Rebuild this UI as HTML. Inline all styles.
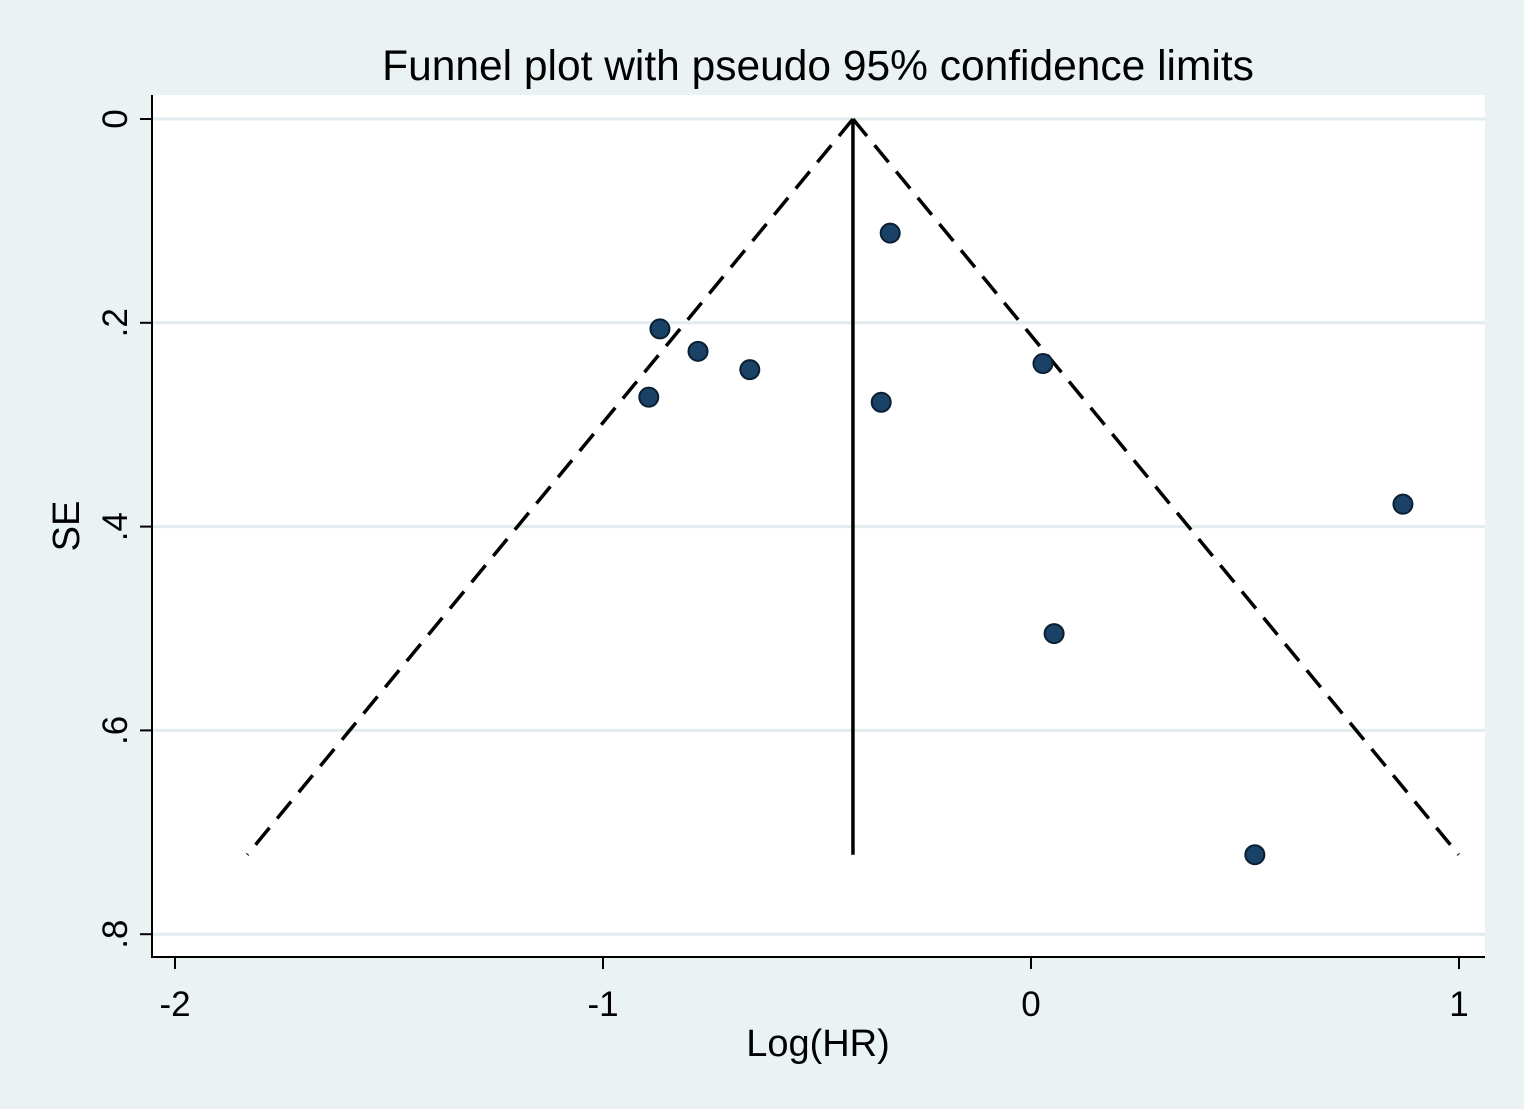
<!DOCTYPE html>
<html><head><meta charset="utf-8"><style>
html,body{margin:0;padding:0;background:#eaf2f3;}
svg{display:block;font-family:"Liberation Sans",Arial,sans-serif;}
</style></head><body>
<svg id="chart" width="1524" height="1109" viewBox="0 0 1524 1109">
<rect x="0" y="0" width="1524" height="1109" fill="#eaf2f3"/>
<text x="818" y="80" font-size="42.5" text-anchor="middle" fill="#000">Funnel plot with pseudo 95% confidence limits</text>
<rect x="152" y="95" width="1333" height="862" fill="#fff"/>
<g id="grid"></g>
<g id="funnel"></g>
<g id="points"></g>
<g id="axes"></g>
<text x="818" y="1056" font-size="38" text-anchor="middle">Log(HR)</text>
<text transform="translate(79,526) rotate(-90)" font-size="38" text-anchor="middle">SE</text>
</svg>
<script>
const xTicks=[-2,-1,0,1];
const xTickLabels=["-2","-1","0","1"];
const yTicks=[0,0.2,0.4,0.6,0.8];
const yTickLabels=["0",".2",".4",".6",".8"];
const logHR=[-0.329,-0.867,-0.778,-0.657,-0.893,-0.350,0.028,0.869,0.054,0.523];
const se=[0.112,0.206,0.228,0.246,0.273,0.278,0.240,0.378,0.505,0.722];
const pooled=[-0.416];
const maxSE=[0.722];

const NS="http://www.w3.org/2000/svg";
const xs=v=>1031+428*v;
const ys=v=>119+1019*v;
function mk(tag,attrs,parent){const e=document.createElementNS(NS,tag);for(const k in attrs)e.setAttribute(k,attrs[k]);document.getElementById(parent).appendChild(e);return e;}

yTicks.forEach((t,i)=>{
  const g=mk('line',{x1:152,x2:1485,y1:ys(t),y2:ys(t),stroke:'#e2ebee','stroke-width':3},'grid');
  
  
  const tk=mk('line',{x1:140,x2:152,y1:ys(t),y2:ys(t),stroke:'#000','stroke-width':2},'axes');
  
  
  const tx=mk('text',{transform:`translate(127,${ys(t)}) rotate(-90)`,'font-size':35,'text-anchor':'middle'},'axes');
  tx.textContent=yTickLabels[i];
  
  
});
xTicks.forEach((t,i)=>{
  const tk=mk('line',{x1:xs(t),x2:xs(t),y1:957,y2:969,stroke:'#000','stroke-width':2},'axes');
  
  
  const tx=mk('text',{x:xs(t),y:1016,'font-size':35,'text-anchor':'middle'},'axes');
  tx.textContent=xTickLabels[i];
  
  
});
const ya=mk('line',{x1:152,x2:152,y1:95,y2:958,stroke:'#000','stroke-width':2},'axes');


const xa=mk('line',{x1:151,x2:1485,y1:957,y2:957,stroke:'#000','stroke-width':2},'axes');



const p=pooled[0],m=maxSE[0];
const fl=mk('line',{x1:xs(p),y1:ys(0),x2:xs(p-1.96*m),y2:ys(m),stroke:'#000','stroke-width':3.5,'stroke-dasharray':'22,12'},'funnel');


const fr=mk('line',{x1:xs(p),y1:ys(0),x2:xs(p+1.96*m),y2:ys(m),stroke:'#000','stroke-width':3.5,'stroke-dasharray':'22,12'},'funnel');


const pl=mk('line',{x1:xs(p),y1:ys(0),x2:xs(p),y2:ys(m),stroke:'#000','stroke-width':3.5},'funnel');



logHR.forEach((v,i)=>{
  const c=mk('circle',{cx:xs(v),cy:ys(se[i]),r:9.5,fill:'#1a4166',stroke:'#0b1f33','stroke-width':2},'points');
  
  
});
</script>
</body></html>
